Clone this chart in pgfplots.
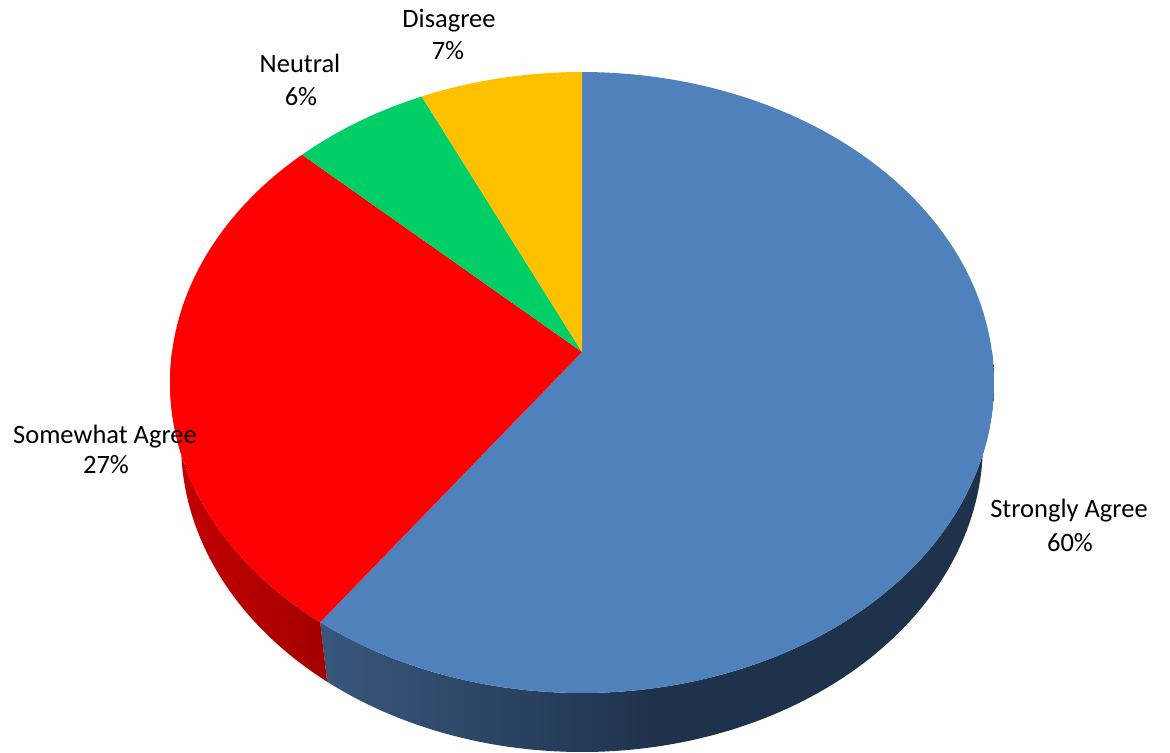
\documentclass[border=0pt]{standalone}
\usepackage{fontspec}
\setmainfont{Carlito}
\usepackage{pgfplots}
\pgfplotsset{compat=1.18}
\usepackage{pgfplotstable}

\definecolor{cBlue}{HTML}{4F81BD}
\definecolor{cRed}{HTML}{FF0000}
\definecolor{cGreen}{HTML}{00CE67}
\definecolor{cYellow}{HTML}{FFC000}
\definecolor{sBlueL}{HTML}{38577C}
\definecolor{sBlueD}{HTML}{1F324C}
\definecolor{sRedL}{HTML}{C40000}
\definecolor{sRedD}{HTML}{A40000}

% percentages of the answers
\pgfplotstableread{
label value
StronglyAgree 60
SomewhatAgree 27
Neutral 6
Disagree 7
}\piedata

\tikzset{declare function={
  pw(\t)=1+0.0983*sin(\t);
  px(\t)=582+410*cos(\t)/pw(\t);
  py(\t)=401+307.5*sin(\t)/pw(\t);
  pxb(\t)=582+399*cos(\t)/pw(\t);
  pyb(\t)=401-61.5/pw(\t)+299.2*sin(\t)/pw(\t);
  st(\s,\a,\b)=\a+(min(\s,1)-max(\s-2,0))*(\b-\a);
  sm(\s)=min(max(\s-1,0),1);
  sx(\s,\a,\b)=(1-sm(\s))*px(st(\s,\a,\b))+sm(\s)*pxb(st(\s,\a,\b));
  sy(\s,\a,\b)=(1-sm(\s))*py(st(\s,\a,\b))+sm(\s)*pyb(st(\s,\a,\b));
}}

\pgfplotstablegetelem{0}{value}\of\piedata \let\vA\pgfplotsretval
\pgfplotstablegetelem{1}{value}\of\piedata \let\vB\pgfplotsretval
\pgfplotstablegetelem{2}{value}\of\piedata \let\vC\pgfplotsretval
\pgfplotstablegetelem{3}{value}\of\piedata \let\vD\pgfplotsretval
\pgfmathsetmacro\aO{90}
\pgfmathsetmacro\aA{\aO-3.6*\vA}
\pgfmathsetmacro\aB{\aA-3.6*\vB}
\pgfmathsetmacro\aC{\aB-3.6*\vC}
\pgfmathsetmacro\aD{\aC-3.6*\vD}

\begin{document}%
\begin{tikzpicture}
\begin{axis}[hide axis, x=1bp, y=1bp, xmin=0, xmax=1170, ymin=0, ymax=753,
  scale only axis, clip=false, anchor=south west, at={(0,0)}]
% side of the disk
\addplot[draw=none, left color=sBlueL, right color=sBlueD, middle color=sBlueD,
  domain=0:3, samples=301] ({sx(x,\aA,0)},{sy(x,\aA,0)}) -- cycle;
\addplot[draw=none, left color=sRedL, right color=sRedD,
  domain=0:3, samples=151] ({sx(x,-180,\aA)},{sy(x,-180,\aA)}) -- cycle;
% top surface
\addplot[fill=cBlue, draw=none, domain=\aA:\aO, samples=200] ({px(x)},{py(x)}) -- (axis cs:582,401) -- cycle;
\addplot[fill=cRed, draw=none, domain=\aB:\aA, samples=100] ({px(x)},{py(x)}) -- (axis cs:582,401) -- cycle;
\addplot[fill=cGreen, draw=none, domain=\aC:\aB, samples=40] ({px(x)},{py(x)}) -- (axis cs:582,401) -- cycle;
\addplot[fill=cYellow, draw=none, domain=\aD:\aC, samples=40] ({px(x)},{py(x)}) -- (axis cs:582,401) -- cycle;
% labels
\begin{scope}[every node/.style={anchor=base, font=\fontsize{26.5bp}{32bp}\selectfont, inner sep=0pt}]
\node at (axis cs:449,725) {Disagree};
\node at (axis cs:448,693) {7\%};
\node at (axis cs:300,680) {Neutral};
\node at (axis cs:301,647) {6\%};
\node at (axis cs:105,310) {Somewhat Agree};
\node at (axis cs:106,280) {27\%};
\node at (axis cs:1069,236) {Strongly Agree};
\node at (axis cs:1070,202) {60\%};
\end{scope}
\end{axis}
\pgfresetboundingbox
\useasboundingbox (0,0) rectangle (1170bp,753bp);
\end{tikzpicture}%
\end{document}
